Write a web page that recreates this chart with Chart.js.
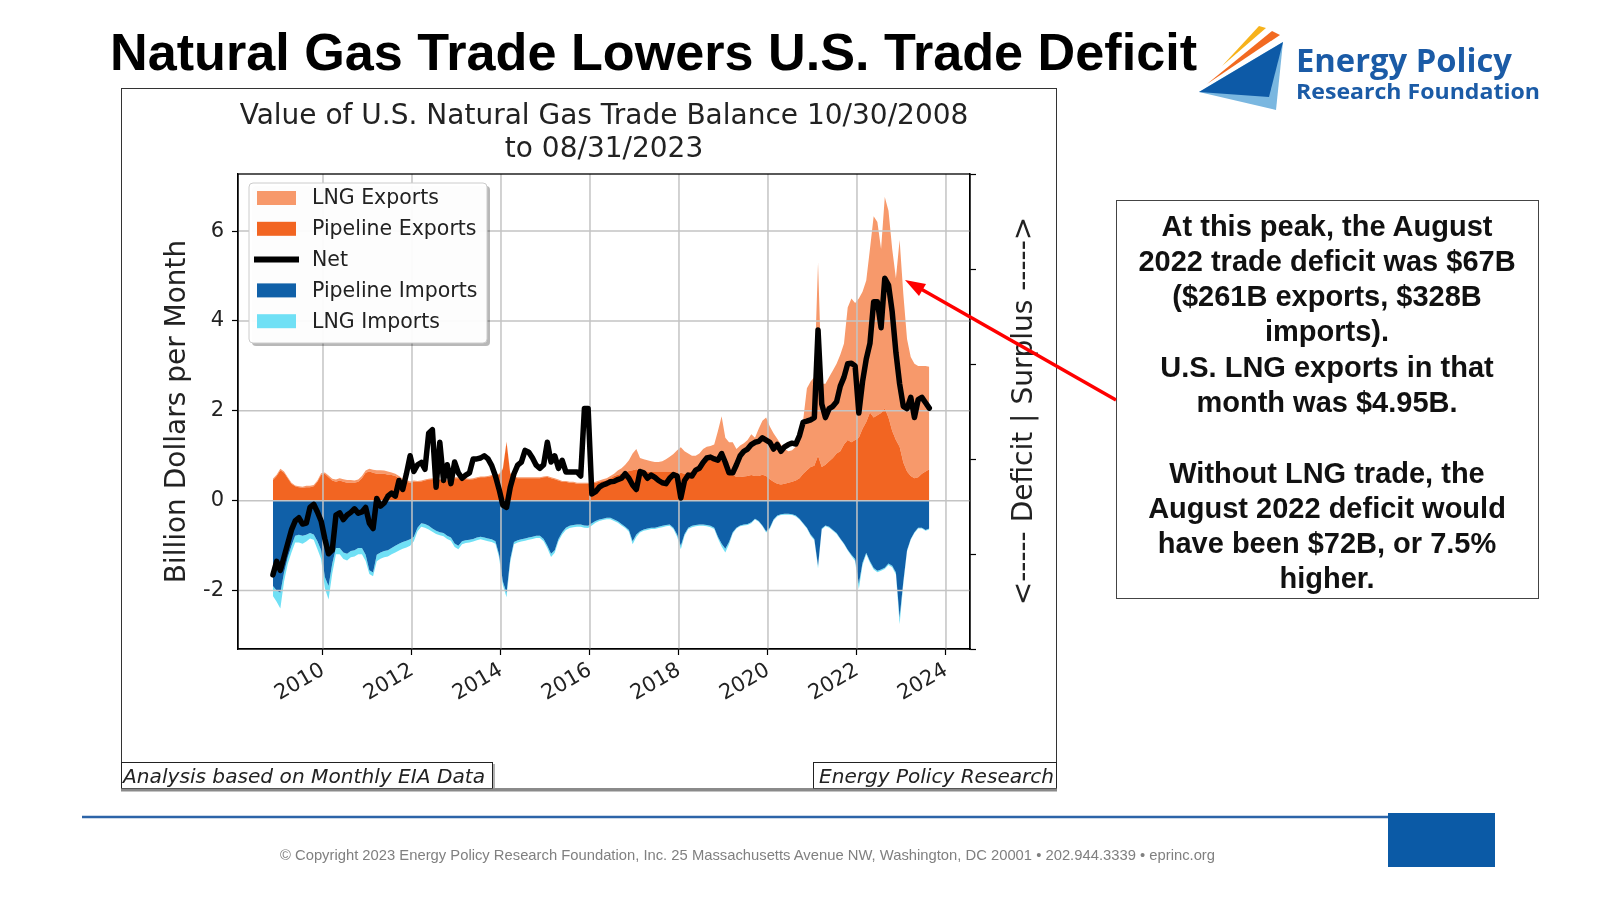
<!DOCTYPE html>
<html><head><meta charset="utf-8">
<script src="https://cdn.jsdelivr.net/npm/chart.js@4.4.0/dist/chart.umd.min.js"></script>
<style>
html,body{margin:0;padding:0;background:#fff;}
body{width:1600px;height:900px;position:relative;overflow:hidden;}
#frame{position:absolute;left:121px;top:88px;width:934px;height:699px;border:1px solid #333;border-bottom:3px solid #8a8a8a;}
#c{position:absolute;left:122px;top:89px;width:934px;height:672px;}
#ov{position:absolute;left:0;top:0;pointer-events:none;}
</style></head><body>
<div id="frame"></div>
<canvas id="c" width="934" height="672"></canvas>
<svg id="ov" width="1600" height="900" xmlns="http://www.w3.org/2000/svg">
  <text x="110" y="70" font-family="Liberation Sans, Arial, sans-serif" font-weight="bold" font-size="52" fill="#000" textLength="1087" lengthAdjust="spacingAndGlyphs">Natural Gas Trade Lowers U.S. Trade Deficit</text>
  <!-- logo -->
  <polygon points="1199,92 1283,42 1276,110" fill="#7ab7e0"/>
  <polygon points="1199,92 1283,42 1269,97" fill="#0d5aa7"/>
  <polygon points="1207,84 1272,31 1280,35" fill="#f26a21"/>
  <polygon points="1222,66 1259,26 1266,28" fill="#f7b21b"/>
  <text x="1296" y="72" font-family="Open Sans, Lato, sans-serif" font-weight="bold" font-size="32" fill="#1b5ba6" textLength="216" lengthAdjust="spacingAndGlyphs">Energy Policy</text>
  <text x="1296" y="99" font-family="Open Sans, Lato, sans-serif" font-weight="bold" font-size="22" fill="#1b5ba6" textLength="244" lengthAdjust="spacingAndGlyphs">Research Foundation</text>
  <!-- right axis label -->
  <text transform="translate(1022,411) rotate(-90)" text-anchor="middle" dominant-baseline="central" font-family="DejaVu Sans" font-size="28" fill="#222">&lt;----- Deficit | Surplus -----&gt;</text>
  <!-- bottom boxes -->
  <rect x="121.5" y="762.5" width="371" height="26" fill="#fff" stroke="#222" stroke-width="1"/>
  <line x1="494" y1="764" x2="494" y2="789" stroke="#999" stroke-width="1.5"/>
  <text x="123" y="783" font-family="DejaVu Sans" font-style="italic" font-size="20" fill="#222" textLength="362" lengthAdjust="spacingAndGlyphs">Analysis based on Monthly EIA Data</text>
  <rect x="813.5" y="762.5" width="243" height="26" fill="#fff" stroke="#222" stroke-width="1"/>
  <text x="819" y="783" font-family="DejaVu Sans" font-style="italic" font-size="20" fill="#222" textLength="235" lengthAdjust="spacingAndGlyphs">Energy Policy Research</text>
  <line x1="121" y1="790" x2="1057" y2="790" stroke="#8a8a8a" stroke-width="3"/>
  <!-- annotation -->
  <rect x="1116.5" y="200.5" width="422" height="398" fill="#fff" stroke="#444" stroke-width="1"/>
  <g font-family="Liberation Sans, Arial, sans-serif" font-weight="bold" font-size="29" fill="#111" text-anchor="middle">
    <text x="1327" y="236">At this peak, the August</text>
    <text x="1327" y="271">2022 trade deficit was $67B</text>
    <text x="1327" y="306">($261B exports, $328B</text>
    <text x="1327" y="341">imports).</text>
    <text x="1327" y="377">U.S. LNG exports in that</text>
    <text x="1327" y="412">month was $4.95B.</text>
    <text x="1327" y="483">Without LNG trade, the</text>
    <text x="1327" y="518">August 2022 deficit would</text>
    <text x="1327" y="553">have been $72B, or 7.5%</text>
    <text x="1327" y="588">higher.</text>
  </g>
  <!-- arrow -->
  <line x1="1116" y1="400" x2="921" y2="289" stroke="#f00" stroke-width="3.5"/>
  <polygon points="905,280 926,284 919,296" fill="#f00"/>
  <!-- footer -->
  <line x1="82" y1="817" x2="1390" y2="817" stroke="#2c64a8" stroke-width="2.5"/>
  <rect x="1388" y="813" width="107" height="54" fill="#0b5aa6"/>
  <text x="280" y="860" font-family="Liberation Sans, Arial, sans-serif" font-size="14.5" fill="#808080" textLength="935" lengthAdjust="spacingAndGlyphs">© Copyright 2023 Energy Policy Research Foundation, Inc. 25 Massachusetts Avenue NW, Washington, DC 20001 • 202.944.3339 • eprinc.org</text>
</svg>
<script>
// ---------- data (billion dollars per month), monthly Nov 2008 .. Aug 2023 ----------
const firstYear = 2008, firstMonth = 11, monthCount = 178;

const pipelineExports = [
  0.46, 0.55,
  0.68, 0.62, 0.50, 0.38, 0.32, 0.30, 0.29, 0.30, 0.30, 0.32, 0.42, 0.58,
  0.60, 0.52, 0.45, 0.42, 0.45, 0.42, 0.40, 0.40, 0.40, 0.42, 0.50, 0.62,
  0.65, 0.62, 0.60, 0.60, 0.60, 0.58, 0.57, 0.55, 0.50, 0.45, 0.42, 0.40,
  0.42, 0.42, 0.43, 0.45, 0.47, 0.48, 0.47, 0.46, 0.45, 0.45, 0.47, 0.50,
  0.50, 0.50, 0.48, 0.47, 0.48, 0.50, 0.52, 0.52, 0.53, 0.55, 0.55, 0.58,
  0.70, 1.30, 0.60, 0.52, 0.50, 0.50, 0.50, 0.50, 0.50, 0.50, 0.50, 0.52,
  0.53, 0.50, 0.48, 0.45, 0.42, 0.42, 0.40, 0.40, 0.38, 0.38, 0.38, 0.38,
  0.39, 0.40, 0.42, 0.44, 0.46, 0.50, 0.55, 0.58, 0.60, 0.63, 0.66, 0.68,
  0.70, 0.68, 0.66, 0.65, 0.64, 0.64, 0.64, 0.64, 0.64, 0.64, 0.64, 0.63,
  0.62, 0.60, 0.62, 0.66, 0.72, 0.78, 0.86, 0.90, 0.93, 0.97, 0.95, 0.90,
  0.75, 0.65, 0.58, 0.53, 0.53, 0.54, 0.55, 0.57, 0.55, 0.55, 0.58, 0.55,
  0.48, 0.42, 0.38, 0.36, 0.38, 0.40, 0.42, 0.45, 0.50, 0.60, 0.68, 0.75,
  0.78, 1.00, 0.75, 0.80, 0.88, 0.95, 1.05, 1.10, 1.25, 1.35, 1.30, 1.35,
  1.40, 1.60, 1.75, 1.96, 1.85, 1.90, 1.95, 2.05, 1.85, 1.55, 1.35, 1.20,
  0.85, 0.65, 0.55, 0.50, 0.52, 0.60, 0.65, 0.70
];
const lngExports = [
  0.03, 0.03,
  0.03, 0.03, 0.02, 0.02, 0.02, 0.02, 0.02, 0.03, 0.03, 0.03, 0.03, 0.03,
  0.03, 0.04, 0.04, 0.05, 0.05, 0.06, 0.06, 0.06, 0.05, 0.05, 0.05, 0.05,
  0.06, 0.07, 0.08, 0.08, 0.07, 0.07, 0.06, 0.05, 0.05, 0.04, 0.04, 0.03,
  0.03, 0.02, 0.02, 0.02, 0.02, 0.02, 0.02, 0.02, 0.02, 0.02, 0.02, 0.02,
  0.02, 0.02, 0.02, 0.02, 0.02, 0.02, 0.02, 0.02, 0.02, 0.02, 0.02, 0.02,
  0.02, 0.02, 0.02, 0.02, 0.02, 0.02, 0.02, 0.02, 0.02, 0.02, 0.02, 0.02,
  0.02, 0.02, 0.02, 0.02, 0.02, 0.02, 0.02, 0.02, 0.02, 0.02, 0.02, 0.02,
  0.01, 0.02, 0.03, 0.04, 0.04, 0.05, 0.05, 0.09, 0.12, 0.17, 0.24, 0.37,
  0.45, 0.27, 0.26, 0.25, 0.24, 0.22, 0.22, 0.24, 0.28, 0.34, 0.40, 0.49,
  0.57, 0.50, 0.43, 0.34, 0.28, 0.27, 0.29, 0.30, 0.29, 0.28, 0.60, 0.98,
  0.65, 0.65, 0.72, 0.62, 0.70, 0.74, 0.80, 0.91, 0.85, 1.05, 1.20, 1.30,
  1.17, 1.08, 1.00, 0.89, 0.77, 0.70, 0.70, 0.75, 0.88, 1.20, 1.82, 1.90,
  1.97, 4.30, 1.85, 1.80, 1.87, 1.95, 2.00, 2.15, 2.25, 2.95, 3.20, 3.05,
  3.10, 3.05, 3.15, 3.64, 4.48, 4.30, 3.65, 4.71, 4.60, 4.05, 3.60, 4.60,
  3.75, 2.95, 2.65, 2.55, 2.48, 2.40, 2.35, 2.28
];
const pipelineImports = [
  -1.90, -2.00,
  -2.05, -1.60, -1.26, -1.00, -0.78, -0.76, -0.78, -0.76, -0.72, -0.75, -0.90, -1.10,
  -1.70, -1.90, -1.40, -1.05, -1.05, -1.15, -1.18, -1.12, -1.10, -1.05, -1.05, -1.20,
  -1.55, -1.60, -1.20, -1.15, -1.12, -1.10, -1.05, -1.00, -0.96, -0.92, -0.89, -0.86,
  -0.80, -0.60, -0.50, -0.52, -0.56, -0.62, -0.67, -0.70, -0.72, -0.78, -0.82, -0.95,
  -1.00, -0.90, -0.88, -0.87, -0.85, -0.82, -0.80, -0.82, -0.84, -0.86, -0.90, -1.20,
  -1.80, -2.05, -1.30, -0.92, -0.88, -0.86, -0.84, -0.82, -0.80, -0.78, -0.78, -0.85,
  -1.00, -1.18, -1.10, -0.85, -0.70, -0.60, -0.56, -0.54, -0.53, -0.53, -0.55, -0.56,
  -0.50, -0.45, -0.42, -0.40, -0.38, -0.38, -0.42, -0.46, -0.52, -0.58, -0.65, -0.90,
  -0.75, -0.68, -0.64, -0.62, -0.60, -0.60, -0.58, -0.56, -0.54, -0.53, -0.60, -0.75,
  -1.00, -0.74, -0.60, -0.56, -0.54, -0.53, -0.53, -0.54, -0.56, -0.60, -0.80, -0.96,
  -1.07, -0.92, -0.70, -0.60, -0.55, -0.53, -0.52, -0.48, -0.40, -0.45, -0.55, -0.68,
  -0.60, -0.42, -0.33, -0.30, -0.29, -0.29, -0.30, -0.33, -0.40, -0.50, -0.60, -0.75,
  -0.85, -1.45, -0.62, -0.55, -0.58, -0.65, -0.72, -0.84, -0.95, -1.09, -1.20, -1.30,
  -1.85, -1.38, -1.16, -1.35, -1.50, -1.56, -1.53, -1.49, -1.40, -1.45, -1.60, -2.60,
  -1.80, -1.10, -0.85, -0.70, -0.60, -0.60, -0.65, -0.62
];
const lngImports = [
  -0.22, -0.25,
  -0.35, -0.20, -0.15, -0.15, -0.15, -0.17, -0.18, -0.15, -0.12, -0.12, -0.18, -0.20,
  -0.25, -0.30, -0.22, -0.14, -0.14, -0.15, -0.15, -0.14, -0.14, -0.14, -0.14, -0.14,
  -0.08, -0.08, -0.15, -0.14, -0.14, -0.14, -0.14, -0.15, -0.15, -0.15, -0.15, -0.14,
  -0.10, -0.08, -0.08, -0.08, -0.08, -0.07, -0.07, -0.07, -0.07, -0.07, -0.07, -0.08,
  -0.08, -0.07, -0.06, -0.06, -0.06, -0.06, -0.06, -0.06, -0.06, -0.06, -0.06, -0.07,
  -0.08, -0.10, -0.07, -0.05, -0.05, -0.05, -0.05, -0.05, -0.05, -0.05, -0.05, -0.05,
  -0.06, -0.07, -0.06, -0.05, -0.05, -0.05, -0.05, -0.05, -0.05, -0.05, -0.05, -0.05,
  -0.05, -0.04, -0.03, -0.03, -0.03, -0.03, -0.03, -0.03, -0.03, -0.03, -0.04, -0.07,
  -0.06, -0.03, -0.03, -0.03, -0.03, -0.03, -0.03, -0.03, -0.03, -0.03, -0.03, -0.05,
  -0.08, -0.04, -0.03, -0.03, -0.03, -0.03, -0.03, -0.03, -0.03, -0.03, -0.04, -0.06,
  -0.08, -0.05, -0.03, -0.02, -0.02, -0.02, -0.02, -0.02, -0.02, -0.02, -0.02, -0.03,
  -0.03, -0.02, -0.02, -0.02, -0.02, -0.02, -0.02, -0.02, -0.02, -0.02, -0.02, -0.03,
  -0.03, -0.06, -0.02, -0.02, -0.02, -0.02, -0.02, -0.02, -0.02, -0.02, -0.03, -0.04,
  -0.12, -0.05, -0.03, -0.03, -0.03, -0.03, -0.03, -0.03, -0.03, -0.03, -0.04, -0.15,
  -0.06, -0.03, -0.02, -0.02, -0.02, -0.02, -0.02, -0.02
];
const net = [
  -1.65, -1.35,
  -1.55, -1.25, -0.95, -0.65, -0.45, -0.38, -0.52, -0.50, -0.15, -0.08, -0.25, -0.45,
  -0.85, -1.18, -1.10, -0.32, -0.27, -0.42, -0.32, -0.26, -0.18, -0.28, -0.25, -0.15,
  -0.50, -0.62, 0.05, -0.12, -0.05, 0.10, 0.17, 0.10, 0.45, 0.25, 0.60, 1.00,
  0.65, 0.80, 0.85, 0.70, 1.50, 1.58, 0.30, 1.30, 0.45, 0.80, 0.38, 0.86,
  0.62, 0.50, 0.57, 0.62, 0.93, 0.93, 0.95, 1.00, 0.93, 0.78, 0.55, 0.25,
  -0.10, -0.15, 0.30, 0.60, 0.79, 0.86, 1.12, 1.08, 0.95, 0.79, 0.72, 0.80,
  1.30, 0.86, 1.00, 0.72, 0.90, 0.64, 0.64, 0.64, 0.64, 0.55, 2.05, 2.05,
  0.15, 0.20, 0.30, 0.35, 0.38, 0.42, 0.43, 0.47, 0.50, 0.60, 0.50, 0.35,
  0.25, 0.65, 0.62, 0.50, 0.57, 0.52, 0.45, 0.40, 0.38, 0.50, 0.58, 0.55,
  0.06, 0.45, 0.57, 0.55, 0.68, 0.72, 0.85, 0.95, 0.97, 0.93, 0.90, 1.05,
  0.85, 0.62, 0.62, 0.80, 1.00, 1.10, 1.15, 1.25, 1.30, 1.32, 1.40, 1.35,
  1.30, 1.15, 1.25, 1.10, 1.20, 1.25, 1.28, 1.26, 1.45, 1.75, 1.77, 1.80,
  1.85, 3.80, 2.15, 1.85, 2.05, 2.10, 2.20, 2.55, 2.75, 3.05, 3.06, 3.00,
  1.95, 2.65, 3.15, 3.50, 4.43, 4.43, 3.85, 4.95, 4.80, 4.20, 3.30, 2.60,
  2.10, 2.05, 2.30, 1.85, 2.25, 2.30, 2.18, 2.06
];
const xTickYears = [2010, 2012, 2014, 2016, 2018, 2020, 2022, 2024];
const yTickValues = [-2, 0, 2, 4, 6];
const rightTickValues = [0, 0.2, 0.4, 0.6, 0.8, 1.0];
const legendOrder = ['LNG Exports', 'Pipeline Exports', 'Net', 'Pipeline Imports', 'LNG Imports'];
const chartTitle = ['Value of U.S. Natural Gas Trade Balance 10/30/2008', 'to 08/31/2023'];

// month positions (decimal year, mid-month)
const months = [];
for (let i = 0; i < monthCount; i++) {
  const mm = firstMonth - 1 + i;
  const yr = firstYear + Math.floor(mm / 12);
  const mo = (mm % 12) + 1;
  months.push(yr + (mo - 0.5) / 12);
}
const pts = arr => arr.map((v, i) => ({x: months[i], y: v}));

const COLORS = {
  'LNG Exports': '#F7996B',
  'Pipeline Exports': '#F26522',
  'Net': '#000000',
  'Pipeline Imports': '#1060A8',
  'LNG Imports': '#70E0F5'
};

const overlay = {
  id: 'overlay',
  beforeDatasetDraw(chart, args) {
    if (args.index !== 0) return;
    const {ctx, chartArea: a, scales: {x, y}} = chart;
    ctx.save();
    ctx.strokeStyle = '#c4c4c4';
    ctx.lineWidth = 1.5;
    ctx.beginPath();
    x.ticks.forEach(t => { const px = x.getPixelForValue(t.value); ctx.moveTo(px, a.top); ctx.lineTo(px, a.bottom); });
    y.ticks.forEach(t => { const py = y.getPixelForValue(t.value); ctx.moveTo(a.left, py); ctx.lineTo(a.right, py); });
    ctx.stroke();
    ctx.restore();
  },
  afterDatasetsDraw(chart) {
    const {ctx, chartArea: a} = chart;
    ctx.save();
    const x0 = a.left + 11, y0 = a.top + 9, w = 238, h = 160;
    ctx.fillStyle = 'rgba(0,0,0,0.28)';
    ctx.beginPath(); ctx.roundRect(x0 + 3, y0 + 3, w, h, 4); ctx.fill();
    ctx.fillStyle = 'rgba(255,255,255,0.97)';
    ctx.beginPath(); ctx.roundRect(x0, y0, w, h, 4); ctx.fill();
    ctx.strokeStyle = '#cccccc'; ctx.lineWidth = 1; ctx.stroke();
    legendOrder.forEach((lab, i) => {
      const cy = y0 + 15 + i * 30.8;
      if (lab === 'Net') {
        ctx.strokeStyle = '#000'; ctx.lineWidth = 6; ctx.lineCap = 'square';
        ctx.beginPath(); ctx.moveTo(x0 + 8, cy); ctx.lineTo(x0 + 47, cy); ctx.stroke();
      } else {
        ctx.fillStyle = COLORS[lab];
        ctx.fillRect(x0 + 8, cy - 7, 39, 14);
      }
      ctx.fillStyle = '#222';
      ctx.font = '20.5px "DejaVu Sans"';
      ctx.textBaseline = 'middle';
      ctx.textAlign = 'left';
      ctx.fillText(lab, x0 + 63, cy + 1);
    });
    ctx.restore();
  },
  afterDraw(chart) {
    const {ctx, chartArea: a} = chart;
    ctx.save();
    ctx.strokeStyle = '#000'; ctx.lineWidth = 1.3;
    ctx.strokeRect(a.left, a.top, a.right - a.left, a.bottom - a.top);
    ctx.restore();
  }
};

Chart.defaults.font.family = 'DejaVu Sans';
Chart.defaults.color = '#222';

const areaDefaults = {borderWidth: 0, borderColor: 'rgba(0,0,0,0)', pointRadius: 0, stack: 'trade', tension: 0};

new Chart(document.getElementById('c'), {
  type: 'line',
  data: {
    datasets: [
      {label: 'Net', data: pts(net), borderColor: COLORS['Net'], borderWidth: 5.5, pointRadius: 0,
       fill: false, stack: 'net', borderJoinStyle: 'round', borderCapStyle: 'round', tension: 0},
      Object.assign({label: 'Pipeline Exports', data: pts(pipelineExports), backgroundColor: COLORS['Pipeline Exports'], fill: 'origin'}, areaDefaults),
      Object.assign({label: 'LNG Exports', data: pts(lngExports), backgroundColor: COLORS['LNG Exports'], fill: '-1'}, areaDefaults),
      Object.assign({label: 'Pipeline Imports', data: pts(pipelineImports), backgroundColor: COLORS['Pipeline Imports'], fill: 'origin'}, areaDefaults),
      Object.assign({label: 'LNG Imports', data: pts(lngImports), backgroundColor: COLORS['LNG Imports'], fill: '-1'}, areaDefaults)
    ]
  },
  options: {
    responsive: false, animation: false, devicePixelRatio: 1,
    layout: {padding: 0},
    plugins: {
      legend: {display: false},
      tooltip: {enabled: false},
      title: {display: true, text: chartTitle, fullSize: false, color: '#222',
              font: {family: 'DejaVu Sans', size: 28, weight: 'normal', lineHeight: 1.15},
              padding: {top: 12, bottom: 8.6}}
    },
    scales: {
      x: {
        type: 'linear', min: 2008.09, max: 2024.54,
        afterBuildTicks: s => { s.ticks = xTickYears.map(v => ({value: v})); },
        afterFit: s => { s.height = 112; },
        ticks: {callback: v => String(v), minRotation: 30, maxRotation: 30, padding: 3, color: '#222', font: {size: 21}},
        grid: {drawOnChartArea: false, drawTicks: true, tickLength: 6, tickColor: '#000', tickWidth: 1.2},
        border: {display: true, color: '#000', width: 1.3}
      },
      y: {
        stacked: true, min: -3.3, max: 7.27, position: 'left',
        afterBuildTicks: s => { s.ticks = yTickValues.map(v => ({value: v})); },
        afterFit: s => { s.width = 116; },
        ticks: {callback: v => String(v), padding: 8, color: '#222', font: {size: 21}},
        grid: {drawOnChartArea: false, drawTicks: true, tickLength: 6, tickColor: '#000', tickWidth: 1.2},
        border: {display: true, color: '#000', width: 1.3},
        title: {display: true, text: 'Billion Dollars per Month', color: '#222', font: {size: 28, lineHeight: 1.2}, padding: {top: 39, bottom: 0}}
      },
      y2: {
        position: 'right', min: 0, max: 1,
        afterBuildTicks: s => { s.ticks = rightTickValues.map(v => ({value: v})); },
        afterFit: s => { s.width = 86; },
        ticks: {display: false},
        grid: {drawOnChartArea: false, drawTicks: true, tickLength: 6, tickColor: '#000', tickWidth: 1.2},
        border: {display: true, color: '#000', width: 1.3}
      }
    }
  },
  plugins: [overlay]
});
</script>
</body></html>
